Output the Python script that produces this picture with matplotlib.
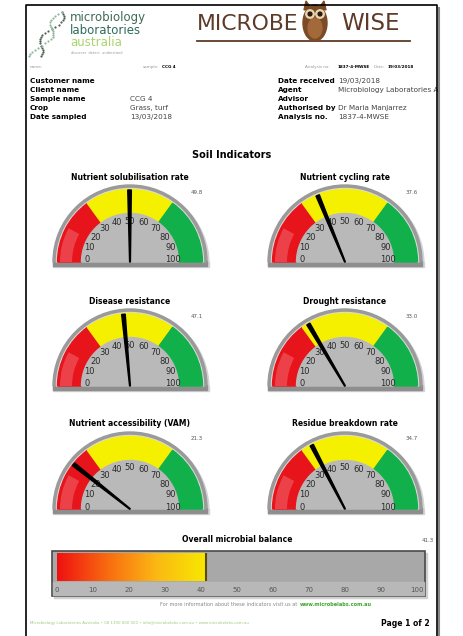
import numpy as np
import matplotlib
matplotlib.use('Agg')
import matplotlib.pyplot as plt
from matplotlib.patches import Wedge, Rectangle, Polygon, Ellipse, Circle
from matplotlib.colors import LinearSegmentedColormap

# gauge data
titles = ['Nutrient solubilisation rate', 'Nutrient cycling rate',
          'Disease resistance', 'Drought resistance',
          'Nutrient accessibility (VAM)', 'Residue breakdown rate']
values = [49.8, 37.6, 47.1, 33.0, 21.3, 34.7]
zone_edges = [0, 30, 70, 100]
zone_colors = ['#e8141c', '#f5f000', '#12b04a']
dial_ticks = [0, 10, 20, 30, 40, 50, 60, 70, 80, 90, 100]

overall_title = 'Overall microbial balance'
overall_value = 41.3
bar_ticks = [0, 10, 20, 30, 40, 50, 60, 70, 80, 90, 100]

info_left_labels = ['Customer name', 'Client name', 'Sample name', 'Crop', 'Date sampled']
info_left_values = ['', '', 'CCG 4', 'Grass, turf', '13/03/2018']
info_right_labels = ['Date received', 'Agent', 'Advisor', 'Authorised by', 'Analysis no.']
info_right_values = ['19/03/2018', 'Microbiology Laboratories A', '', 'Dr Maria Manjarrez', '1837-4-MWSE']

W, H = 464, 636
fig = plt.figure(figsize=(W / 100, H / 100), dpi=100)
ax = fig.add_axes([0, 0, 1, 1])
ax.set_xlim(0, W)
ax.set_ylim(H, 0)
ax.axis('off')

# page frame
ax.plot([26, 26, 437, 437], [H, 5, 5, H], color='black', lw=1.2, zorder=5)
ax.plot([439, 439], [8, H], color='#888888', lw=1.5, zorder=4)

# logo, left
s = np.linspace(0, 1, 22)
for ph, col in [(0, '#4d5d55'), (np.pi, '#8fb89a')]:
    px = 62 - 27 * s + 6 * np.sin(2.6 * np.pi * s + ph)
    py = 12 + 44 * s
    ax.scatter(px, py, s=2.5, color=col, lw=0, zorder=3)
ax.text(70, 18, 'microbiology', fontsize=8.5, color='#3f6a55', va='center')
ax.text(70, 31, 'laboratories', fontsize=8.5, color='#2d6d5a', va='center')
ax.text(70, 43, 'australia', fontsize=8.5, color='#a8d46c', va='center')
ax.text(71, 53, 'discover  detect  understand', fontsize=2.5, color='#999999', va='center')

# MICROBE WISE title, sized so MICROBE fills the space left of the owl
brown = '#5c3b28'
t1 = ax.text(298, 24, 'MICROBE', fontsize=20, color=brown, va='center', ha='right')
fig.canvas.draw()
fs = 20 * 102 / t1.get_window_extent(fig.canvas.get_renderer()).width
t1.set_fontsize(fs)
ax.text(370, 24, 'WISE', fontsize=fs * 1.05, color=brown, va='center', ha='center')
ax.plot([197, 410], [41, 41], color=brown, lw=1.3)
# owl
ax.add_patch(Ellipse((315, 23), 24, 36, color='#7b4a26', zorder=3))
ax.add_patch(Polygon([[304, 10], [306, 1], [311, 8]], color='#7b4a26', zorder=3))
ax.add_patch(Polygon([[326, 10], [324, 1], [319, 8]], color='#7b4a26', zorder=3))
ax.add_patch(Ellipse((315, 28), 14, 20, color='#a26a3a', zorder=3))
for ex in (310, 320):
    ax.add_patch(Circle((ex, 14), 4.2, color='#e8d8b0', zorder=4))
    ax.add_patch(Circle((ex, 14), 1.9, color='#2a1a10', zorder=5))

# small header row
sm = dict(fontsize=3, va='center')
ax.text(30, 67, 'name:', color='#999999', **sm)
ax.text(143, 67, 'sample:', color='#999999', **sm)
ax.text(162, 67, 'CCG 4', color='black', weight='bold', **sm)
ax.text(305, 67, 'Analysis no:', color='#999999', **sm)
ax.text(338, 67, '1837-4-MWSE', color='black', weight='bold', **sm)
ax.text(374, 67, 'Date:', color='#999999', **sm)
ax.text(388, 67, '19/03/2018', color='black', weight='bold', **sm)

# customer info
row_y = [81, 90, 99, 108, 117]
for i, y in enumerate(row_y):
    ax.text(30, y, info_left_labels[i], fontsize=5.2, weight='bold', va='center')
    ax.text(130, y, info_left_values[i], fontsize=5.2, color='#444444', va='center')
    ax.text(278, y, info_right_labels[i], fontsize=5.2, weight='bold', va='center')
    ax.text(338, y, info_right_values[i], fontsize=5.2, color='#444444', va='center')

ax.text(232, 155, 'Soil Indicators', fontsize=7, weight='bold', ha='center', va='center')


def ang(v):
    return 180 + v * 1.8


def draw_gauge(cx, cy, title, v):
    ax.add_patch(Wedge((cx + 2, cy + 2), 77, 180, 360, color='#d4d4d4', zorder=1))
    ax.add_patch(Rectangle((cx - 77, cy), 156, 5, color='#d4d4d4', zorder=1))
    ax.add_patch(Rectangle((cx - 77, cy - 1), 154, 5, color='#8e8e8e', zorder=2))
    ax.add_patch(Wedge((cx, cy), 77, 180, 360, color='#9a9a9a', zorder=2))
    ax.add_patch(Wedge((cx, cy), 73.5, 180, 360, width=1.2, color='#dcdcdc', zorder=2))
    for k, col in enumerate(zone_colors):
        ax.add_patch(Wedge((cx, cy), 72.5, ang(zone_edges[k]), ang(zone_edges[k + 1]),
                           width=24, color=col, zorder=3))
    ax.add_patch(Wedge((cx, cy), 70, ang(0), ang(16), width=12, color='#f47880',
                       alpha=0.45, lw=0, zorder=3))
    ax.add_patch(Wedge((cx, cy), 48.5, 180, 360, color='#b9b9b9', zorder=3))
    for t in dial_ticks:
        a = np.radians(ang(t))
        ax.text(cx + 43 * np.cos(a), cy - 2 + 39 * np.sin(a), str(t), fontsize=6,
                color='#2a2a2a', ha='center', va='center', zorder=4)
    a = np.radians(ang(v))
    d = np.array([np.cos(a), np.sin(a)])
    nrm = np.array([-d[1], d[0]])
    tip = np.array([cx, cy]) + 72 * d
    base = np.array([cx, cy])
    ax.add_patch(Polygon([base + 0.4 * nrm, tip + 1.8 * nrm, tip - 1.8 * nrm, base - 0.4 * nrm],
                         color='black', zorder=5))
    ax.text(cx, cy - 85, title, fontsize=5.5, weight='bold', ha='center', va='center')
    ax.text(cx + 67, cy - 70, f'{v:.1f}', fontsize=4, color='#555555', ha='center', va='center')


centers_x = [130, 345]
centers_y = [262, 386, 509]
for i, (title, v) in enumerate(zip(titles, values)):
    draw_gauge(centers_x[i % 2], centers_y[i // 2], title, v)

# overall balance bar
ax.text(237, 540, overall_title, fontsize=5.5, weight='bold', ha='center', va='center')
ax.text(428, 541, f'{overall_value:.1f}', fontsize=4, color='#555555', ha='center', va='center')
ax.add_patch(Rectangle((54, 553), 373, 45, color='#d0d0d0', zorder=1))
ax.add_patch(Rectangle((52, 551), 373, 45, fc='#a8a8a8', ec='#4a4a4a', lw=1.2, zorder=2))
ax.add_patch(Rectangle((53, 582), 371, 13, color='#b8b8b8', zorder=2))

x0, x1 = 57, 417
bax = fig.add_axes([x0 / W, (H - 581) / H, (x1 - x0) / W, 28 / H])
bax.set_xlim(0, 100)
bax.set_ylim(0, 1)
bax.axis('off')
cmap = LinearSegmentedColormap.from_list('rb', ['#f01010', '#f86a10', '#fbb814', '#f7e800'])
grad = np.linspace(0, 1, 256).reshape(1, -1)
bax.imshow(grad, extent=(0, overall_value, 0, 1), aspect='auto', cmap=cmap, zorder=2)
bax.plot([overall_value, overall_value], [0, 1], color='#5a4a10', lw=1.5, zorder=3)
for t in bar_ticks:
    bax.text(t, -0.33, str(t), fontsize=5, color='#555555', ha='center', va='center', clip_on=False)

# footer
ax.text(299, 605, 'For more information about these indicators visit us at ', fontsize=3.6,
        color='#888888', ha='right', va='center')
ax.text(300, 605, 'www.microbelabs.com.au', fontsize=3.6, color='#3aa82a', weight='bold',
        ha='left', va='center')
ax.text(30, 623, 'Microbiology Laboratories Australia \u2022 08 1300 000 000 \u2022 info@microbelabs.com.au \u2022 www.microbelabs.com.au',
        fontsize=2.8, color='#9ccc80', ha='left', va='center')
ax.text(430, 623, 'Page 1 of 2', fontsize=5.5, weight='bold', ha='right', va='center')

fig.savefig('out.png', dpi=100)
